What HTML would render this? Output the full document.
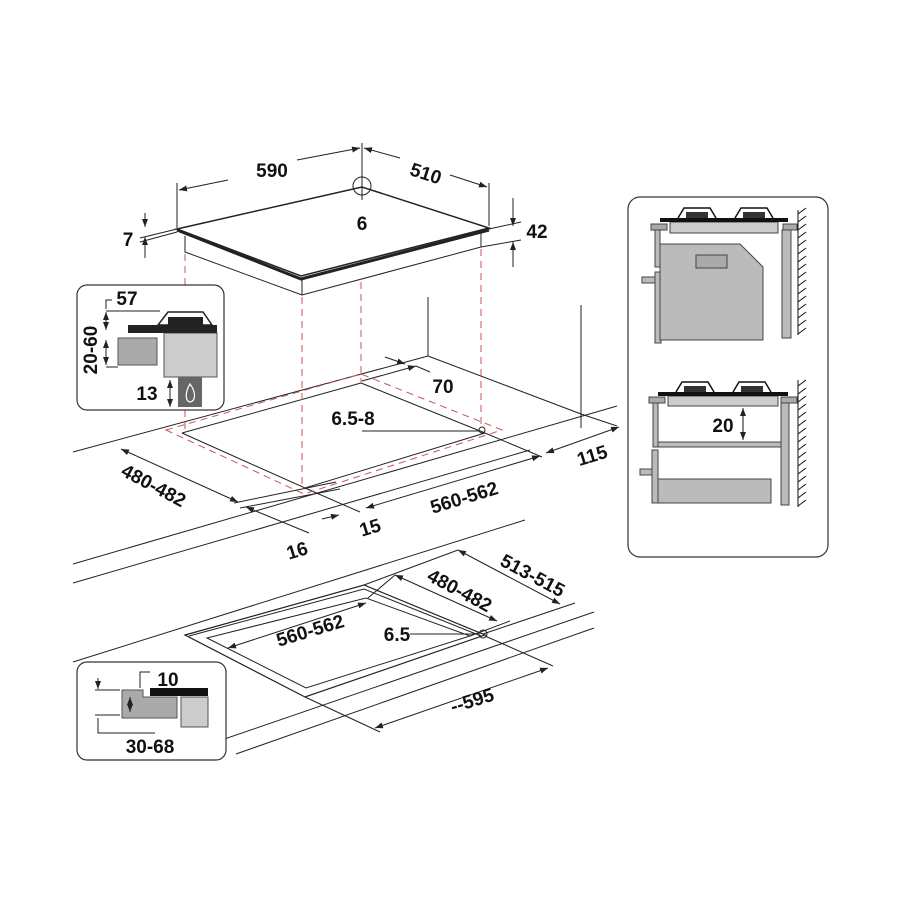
<!DOCTYPE html>
<html><head><meta charset="utf-8"><style>
html,body{margin:0;padding:0;background:#fff;}
svg{display:block;}
text{font-family:"Liberation Sans",sans-serif;font-weight:bold;font-size:19px;fill:#111;}
</style></head><body>
<svg width="900" height="900" viewBox="0 0 900 900" xmlns="http://www.w3.org/2000/svg">
<defs>
<marker id="a" markerWidth="8" markerHeight="6" refX="8" refY="3" orient="auto" markerUnits="userSpaceOnUse"><path d="M0,0 L8,3 L0,6 Z" fill="#222"/></marker>
<marker id="b" markerWidth="8" markerHeight="6" refX="0" refY="3" orient="auto" markerUnits="userSpaceOnUse"><path d="M8,0 L0,3 L8,6 Z" fill="#222"/></marker>
</defs>
<g stroke="#222" stroke-width="1" fill="none">
<polygon points="177,229 362,187 489,228 301,276" stroke-width="1.5"/>
<polyline points="177,230 301,279 489,230" stroke-width="3"/>
<polyline points="185,236 185,252 302,295 481,247 481,232"/>
<line x1="302" y1="280" x2="302" y2="295"/>
<circle cx="362" cy="186" r="9"/>
<line x1="362" y1="143" x2="362" y2="200"/>
<line x1="177" y1="183" x2="177" y2="228"/>
<line x1="489" y1="183" x2="489" y2="226"/>
<line x1="228" y1="180" x2="179" y2="190" marker-end="url(#a)"/>
<line x1="297" y1="160" x2="360" y2="148" marker-end="url(#a)"/>
<line x1="400" y1="158" x2="364" y2="148" marker-end="url(#a)"/>
<line x1="450" y1="175" x2="487" y2="187" marker-end="url(#a)"/>
<line x1="145" y1="213" x2="145" y2="227" marker-end="url(#a)"/>
<line x1="145" y1="258" x2="145" y2="237" marker-end="url(#a)"/>
<line x1="140" y1="238" x2="177" y2="229"/>
<line x1="140" y1="242" x2="177" y2="232"/>
<line x1="513" y1="198" x2="513" y2="226" marker-end="url(#a)"/>
<line x1="513" y1="267" x2="513" y2="242" marker-end="url(#a)"/>
<line x1="489" y1="229" x2="521" y2="222"/>
<line x1="481" y1="247" x2="521" y2="240"/>
<line x1="73" y1="452" x2="428" y2="356"/>
<line x1="428" y1="297" x2="428" y2="356"/>
<line x1="428" y1="356" x2="581" y2="414"/>
<line x1="581" y1="305" x2="581" y2="428"/>
<line x1="581" y1="414" x2="617" y2="426"/>
<line x1="73" y1="564" x2="617" y2="406"/>
<line x1="73" y1="583" x2="530" y2="450"/>
<polyline points="182,433 361,383"/>
<polyline points="182,433 305,488 485,433"/>
<line x1="361" y1="383" x2="485" y2="433"/>
<line x1="234" y1="503" x2="336" y2="482"/>
<line x1="240" y1="508" x2="340" y2="489"/>
<line x1="121" y1="449" x2="238" y2="502" marker-start="url(#b)" marker-end="url(#a)"/>
<line x1="246" y1="507" x2="309" y2="533" marker-start="url(#b)"/>
<line x1="322" y1="519" x2="339" y2="515" marker-end="url(#a)"/>
<line x1="305" y1="488" x2="360" y2="512"/>
<line x1="366" y1="508" x2="540" y2="456" marker-start="url(#b)" marker-end="url(#a)"/>
<line x1="546" y1="453" x2="619" y2="427" marker-start="url(#b)" marker-end="url(#a)"/>
<line x1="485" y1="433" x2="542" y2="457"/>
<line x1="362" y1="431" x2="479" y2="431"/>
<circle cx="482" cy="430" r="3"/>
<line x1="385" y1="357" x2="405" y2="364" marker-end="url(#a)"/>
<line x1="362" y1="381" x2="416" y2="366" marker-end="url(#a)"/>
<line x1="416" y1="366" x2="430" y2="372"/>
</g>
<g stroke="#c55" stroke-width="1" fill="none" stroke-dasharray="7,5">
<line x1="185" y1="254" x2="185" y2="432"/>
<line x1="302" y1="297" x2="302" y2="484"/>
<line x1="361" y1="282" x2="361" y2="383"/>
<line x1="481" y1="249" x2="481" y2="428"/>
<polygon points="166,430 361,374 502,430 304,494"/>
</g>
<g>
<text x="272" y="177" text-anchor="middle">590</text>
<text x="426" y="180" text-anchor="middle" transform="rotate(18 426 173)">510</text>
<text x="362" y="230" text-anchor="middle">6</text>
<text x="128" y="246" text-anchor="middle">7</text>
<text x="537" y="238" text-anchor="middle">42</text>
<text x="443" y="393" text-anchor="middle">70</text>
<text x="353" y="425" text-anchor="middle">6.5-8</text>
<text x="154" y="492" text-anchor="middle" transform="rotate(28 154 485)">480-482</text>
<text x="464" y="504" text-anchor="middle" transform="rotate(-17 464 497)">560-562</text>
<text x="592" y="462" text-anchor="middle" transform="rotate(-17 592 455)">115</text>
<text x="370" y="534" text-anchor="middle" transform="rotate(-17 370 527)">15</text>
<text x="297" y="557" text-anchor="middle" transform="rotate(-17 297 550)">16</text>
</g>
<g stroke="#222" stroke-width="1" fill="none">
<line x1="73" y1="662" x2="525" y2="520"/>
<line x1="207" y1="745" x2="594" y2="612"/>
<line x1="236" y1="754" x2="594" y2="628"/>
<polygon points="185,635 364,585 485,635 305,697" stroke-width="1.2"/>
<polyline points="189,636 364,589 481,636"/>
<polygon points="207,638 366,598 470,636 306,688"/>
<line x1="228" y1="648" x2="366" y2="603" marker-start="url(#b)" marker-end="url(#a)"/>
<line x1="410" y1="634" x2="478" y2="634"/>
<circle cx="483" cy="634" r="4"/>
<line x1="395" y1="575" x2="497" y2="621" marker-start="url(#b)" marker-end="url(#a)"/>
<line x1="458" y1="550" x2="560" y2="604" marker-start="url(#b)" marker-end="url(#a)"/>
<line x1="364" y1="585" x2="458" y2="550"/>
<line x1="368" y1="598" x2="395" y2="575"/>
<line x1="483" y1="634" x2="575" y2="603"/>
<line x1="470" y1="636" x2="510" y2="621"/>
<line x1="375" y1="728" x2="548" y2="668" marker-start="url(#b)" marker-end="url(#a)"/>
<line x1="305" y1="697" x2="380" y2="732"/>
<line x1="485" y1="636" x2="553" y2="666"/>
</g>
<g>
<text x="310" y="637" text-anchor="middle" transform="rotate(-17 310 630)">560-562</text>
<text x="397" y="641" text-anchor="middle">6.5</text>
<text x="460" y="597" text-anchor="middle" transform="rotate(28 460 590)">480-482</text>
<text x="533" y="582" text-anchor="middle" transform="rotate(28 533 575)">513-515</text>
<text x="472" y="707" text-anchor="middle" transform="rotate(-17 472 700)">--595</text>
</g>
<rect x="77" y="285" width="147" height="125" rx="10" fill="#fff" stroke="#333" stroke-width="1.2"/>
<rect x="118" y="338" width="39" height="27" fill="#aaa" stroke="#555"/>
<rect x="164" y="333" width="53" height="44" fill="#ccc" stroke="#555"/>
<rect x="128" y="325" width="89" height="8" fill="#222"/>
<polygon points="158,325 168,312 203,312 212,325" fill="#fff" stroke="#222" stroke-width="1.5"/>
<rect x="168" y="317" width="35" height="8" fill="#222"/>
<rect x="178" y="377" width="24" height="30" fill="#666"/>
<path d="M190 384 C185 392 185 401 190 402 C196 401 196 392 190 384 Z" fill="none" stroke="#fff" stroke-width="1.2"/>
<g stroke="#222" stroke-width="1" fill="none">
<polyline points="106,309 106,300 112,300"/>
<line x1="106" y1="312" x2="106" y2="330" marker-start="url(#b)" marker-end="url(#a)"/>
<line x1="106" y1="340" x2="106" y2="365" marker-start="url(#b)" marker-end="url(#a)"/>
<line x1="106" y1="311" x2="160" y2="311"/>
<line x1="106" y1="367" x2="118" y2="367"/>
<line x1="170" y1="380" x2="170" y2="407" marker-start="url(#b)" marker-end="url(#a)"/>
</g>
<text x="127" y="305" text-anchor="middle">57</text>
<text x="90" y="357" text-anchor="middle" transform="rotate(-90 90 350)">20-60</text>
<text x="147" y="400" text-anchor="middle">13</text>
<rect x="77" y="662" width="149" height="98" rx="10" fill="#fff" stroke="#333" stroke-width="1.2"/>
<polygon points="122,690 143,690 143,697 177,697 177,718 122,718" fill="#aaa" stroke="#555"/>
<rect x="150" y="688" width="58" height="8" fill="#111"/>
<rect x="181" y="697" width="27" height="30" fill="#ccc" stroke="#555"/>
<g stroke="#222" stroke-width="1" fill="none">
<polyline points="140,688 140,672 150,672"/>
<line x1="95" y1="690" x2="120" y2="690"/>
<line x1="98" y1="678" x2="98" y2="689" marker-end="url(#a)"/>
<line x1="130" y1="697" x2="130" y2="712" marker-start="url(#b)" marker-end="url(#a)"/>
<line x1="95" y1="715" x2="120" y2="715"/>
<polyline points="98,718 98,733 155,733"/>
</g>
<text x="168" y="686" text-anchor="middle">10</text>
<text x="150" y="753" text-anchor="middle">30-68</text>
<rect x="628" y="197" width="200" height="360" rx="12" fill="#fff" stroke="#333" stroke-width="1.2"/>
<g stroke="#444" stroke-width="1">
<rect x="670" y="222" width="108" height="11" fill="#ccc"/>
<rect x="651" y="224" width="16" height="6" fill="#aaa"/>
<rect x="783" y="224" width="14" height="6" fill="#aaa"/>
<rect x="655" y="230" width="5" height="37" fill="#bbb"/>
<rect x="655" y="272" width="6" height="71" fill="#bbb"/>
<rect x="642" y="277" width="13" height="6" fill="#bbb"/>
<polygon points="660,244 740,244 763,267 763,340 660,340" fill="#bbb"/>
<rect x="696" y="255" width="31" height="13" fill="#aaa"/>
<rect x="782" y="230" width="9" height="108" fill="#bbb"/>
<rect x="668" y="396" width="110" height="10" fill="#ccc"/>
<rect x="649" y="397" width="16" height="6" fill="#aaa"/>
<rect x="781" y="397" width="16" height="6" fill="#aaa"/>
<rect x="653" y="403" width="5" height="44" fill="#bbb"/>
<rect x="658" y="442" width="124" height="5" fill="#bbb"/>
<rect x="781" y="403" width="8" height="102" fill="#bbb"/>
<rect x="652" y="450" width="6" height="53" fill="#bbb"/>
<rect x="640" y="469" width="12" height="6" fill="#bbb"/>
<rect x="658" y="479" width="113" height="24" fill="#bbb"/>
</g>
<rect x="660" y="218" width="128" height="4" fill="#111"/>
<rect x="658" y="392" width="130" height="4" fill="#111"/>
<g fill="none" stroke="#111" stroke-width="1.5">
<path d="M678 218 L684 208 L710 208 L716 218"/><path d="M735 218 L741 208 L767 208 L773 218"/>
<path d="M676 392 L682 382 L708 382 L714 392"/><path d="M733 392 L739 382 L765 382 L771 392"/>
</g>
<rect x="686" y="212" width="22" height="6" fill="#333"/><rect x="743" y="212" width="22" height="6" fill="#333"/>
<rect x="684" y="386" width="22" height="6" fill="#333"/><rect x="741" y="386" width="22" height="6" fill="#333"/>
<g stroke="#111" stroke-width="1">
<line x1="798" y1="210" x2="798" y2="335"/>
<line x1="798" y1="380" x2="798" y2="507"/>
<path d="M798 214 l8 -6 M798 222 l8 -6 M798 230 l8 -6 M798 238 l8 -6 M798 246 l8 -6 M798 254 l8 -6 M798 262 l8 -6 M798 270 l8 -6 M798 278 l8 -6 M798 286 l8 -6 M798 294 l8 -6 M798 302 l8 -6 M798 310 l8 -6 M798 318 l8 -6 M798 326 l8 -6 M798 334 l8 -6"/>
<path d="M798 386 l8 -6 M798 394 l8 -6 M798 402 l8 -6 M798 410 l8 -6 M798 418 l8 -6 M798 426 l8 -6 M798 434 l8 -6 M798 442 l8 -6 M798 450 l8 -6 M798 458 l8 -6 M798 466 l8 -6 M798 474 l8 -6 M798 482 l8 -6 M798 490 l8 -6 M798 498 l8 -6 M798 506 l8 -6"/>
<line x1="743" y1="408" x2="743" y2="440" marker-start="url(#b)" marker-end="url(#a)"/>
</g>
<text x="723" y="432" text-anchor="middle">20</text>
</svg>
</body></html>
